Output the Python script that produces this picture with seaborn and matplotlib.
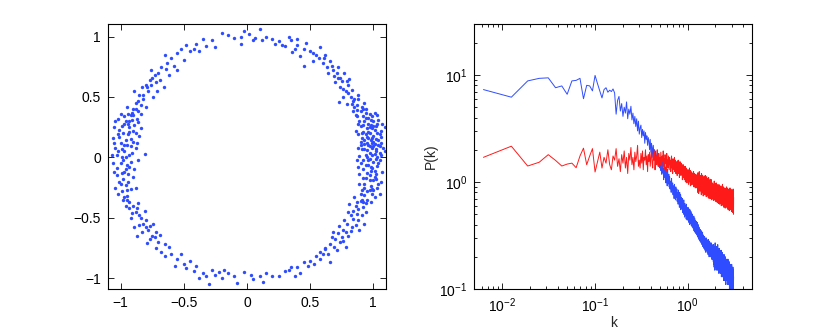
import numpy as np
import pandas as pd
import matplotlib
matplotlib.use('Agg')
import matplotlib.pyplot as plt
import seaborn as sns

# ---------------- scatter points (ring) ----------------
right_pts = [(1.02,0.05),(0.98,-0.08),(0.95,0.12),(1.05,-0.02),(0.92,0.21),(1.00,0.18),(0.97,-0.15),(1.04,0.10),
             (0.90,-0.05),(0.99,0.02),(1.06,0.22),(0.93,-0.22),(1.01,-0.11),(0.96,0.28),(0.88,0.08),(1.03,-0.25),
             (0.94,0.02),(0.99,-0.30),(0.91,0.16),(1.07,-0.12),(0.97,0.09),(1.00,-0.19),(0.95,-0.28),(1.02,0.26),
             (0.89,-0.14),(0.98,0.14),(1.04,0.31),(0.93,0.30),(0.87,-0.02),(1.05,0.04),(0.96,-0.02),(1.01,0.11),
             (0.92,-0.10),(0.99,0.24),(1.03,-0.07),(0.94,-0.17),(0.97,0.20),(1.06,-0.20),(0.90,0.26),(1.00,-0.04),
             (0.95,0.06),(0.98,-0.24),(1.02,0.15),(0.91,-0.27),(1.08,0.08),(0.96,0.33),(0.93,0.11),(1.01,-0.33),
             (0.88,0.19),(0.99,0.08),(1.00,0.30),(0.97,0.36),(1.03,0.20),(0.95,-0.35),(1.05,-0.30),(0.91,0.07),
             (0.99,-0.09),(1.02,-0.01),(0.94,0.19),(0.97,-0.19),(1.04,0.14),(0.90,0.13),(0.96,-0.06),(1.01,0.23),
             (0.93,-0.31),(0.88,0.28),(1.06,0.17),(0.98,0.27),(1.02,-0.18),(0.95,0.24),(0.92,-0.02),(1.00,0.13),
             (0.97,0.04),(0.89,-0.22),(1.03,0.00),(0.94,0.33),(0.99,-0.26),(1.07,0.28),(0.86,0.22),(0.96,0.16),
             (1.01,0.37),(0.91,-0.35),(0.98,-0.37),(1.05,0.09),(0.93,0.07),(0.87,0.34),(1.09,0.05),(1.09,0.25)]
right_extra = [(0.95,0.00),(1.00,0.09),(0.97,-0.27),(1.03,0.35),(0.92,0.27),(0.99,0.16),(1.04,-0.05),(0.90,-0.30),
               (0.96,0.10),(1.02,-0.14),(0.94,-0.06),(0.98,0.31),(1.06,0.02),(0.91,0.20),(1.00,-0.27),(0.93,0.14),
               (0.97,0.25),(1.01,0.03),(0.95,-0.13),(0.89,0.01),(1.05,0.19),(0.98,-0.11),(0.94,0.37),(1.02,0.07),
               (0.92,-0.17),(0.99,0.34),(1.04,-0.22),(0.96,0.21),(0.90,0.10),(1.03,0.28),(0.97,-0.01),(1.00,0.26),
               (0.93,-0.25),(0.95,0.17),(1.01,-0.16),(0.88,-0.08),(0.99,0.12),(1.06,0.12),(0.94,-0.38),(0.92,0.40)]
upper_right_pts = [(0.90,0.38),(0.85,0.42),(0.93,0.45),(0.82,0.50),(0.88,0.52),(0.78,0.55),(0.86,0.35),(0.80,0.60),
                   (0.75,0.63),(0.84,0.47),(0.72,0.66),(0.77,0.70),(0.68,0.72),(0.81,0.65),(0.70,0.62),(0.63,0.75),
                   (0.66,0.80),(0.89,0.30),(0.94,0.40),(0.74,0.58),(0.60,0.78),(0.79,0.44),(0.57,0.82),(0.87,0.43),
                   (0.83,0.56),(0.72,0.75),(0.92,0.34),(0.76,0.50),(0.73,0.46),(0.85,0.48),(0.91,0.42),(0.80,0.53),
                   (0.74,0.66),(0.69,0.67),(0.87,0.39),(0.79,0.63),(0.64,0.70),(0.71,0.70),(0.83,0.44),(0.76,0.57),
                   (0.61,0.82),(0.67,0.76),(0.88,0.48),(0.84,0.38)]
lower_right_pts = [(0.90,-0.36),(0.86,-0.40),(0.94,-0.45),(0.82,-0.48),(0.88,-0.52),(0.79,-0.55),(0.85,-0.33),
                   (0.76,-0.60),(0.72,-0.63),(0.83,-0.58),(0.70,-0.68),(0.74,-0.70),(0.66,-0.72),(0.80,-0.65),
                   (0.62,-0.75),(0.92,-0.41),(0.77,-0.52),(0.87,-0.47),(0.68,-0.62),(0.81,-0.39),(0.93,-0.55),
                   (0.75,-0.66),(0.89,-0.60),(0.64,-0.80),(0.84,-0.44),(0.78,-0.74),(0.88,-0.43),(0.84,-0.51),
                   (0.91,-0.48),(0.78,-0.62),(0.73,-0.57),(0.86,-0.56),(0.69,-0.74),(0.80,-0.45),(0.92,-0.37),
                   (0.76,-0.69),(0.82,-0.61),(0.67,-0.66),(0.87,-0.37),(0.71,-0.77),(0.58,-0.78)]
top_pts = [(0.55,0.85),(0.50,0.88),(0.45,0.90),(0.40,0.93),(0.52,0.80),(0.47,0.95),(0.35,0.97),(0.38,0.90),
           (0.30,0.92),(0.42,0.84),(0.33,1.00),(0.25,0.96),(0.20,0.98),(0.28,0.93),(0.15,1.00),(0.10,1.06),
           (0.05,0.97),(0.02,1.02),(-0.02,1.05),(0.06,0.99),(-0.05,1.00),(-0.10,0.99),(0.12,0.97),(0.45,0.76),
           (0.58,0.91),(0.40,0.98),(-0.20,1.03),(-0.28,0.97),(-0.32,0.92),(-0.35,0.98),(-0.25,0.91),(-0.40,0.94),
           (-0.45,0.88),(-0.48,0.93),(-0.52,0.90),(-0.55,0.86),(-0.60,0.82),(-0.58,0.76),(-0.63,0.78),(-0.50,0.81),
           (-0.38,0.88),(-0.65,0.85),(-0.55,0.72),(0.62,0.85),(-0.05,0.94),(0.52,0.86),(-0.42,0.90),(0.36,0.87),
           (-0.15,1.01),(0.22,0.94)]
upper_left_pts = [(-0.70,0.70),(-0.75,0.66),(-0.72,0.62),(-0.80,0.60),(-0.78,0.55),(-0.85,0.52),(-0.82,0.48),
                  (-0.88,0.45),(-0.90,0.40),(-0.86,0.38),(-0.92,0.35),(-0.68,0.75),(-0.76,0.72),(-0.83,0.58),
                  (-0.95,0.42),(-0.93,0.30),(-0.87,0.32),(-0.80,0.42),(-0.74,0.50),(-0.66,0.58),(-0.96,0.30),
                  (-1.02,0.32),(-0.89,0.55),(-0.77,0.64),(-0.84,0.43),(-0.71,0.55),(-0.79,0.58),(-0.86,0.47),
                  (-0.73,0.68),(-0.91,0.37),(-0.82,0.52),(-0.69,0.64),(-0.88,0.40),(-0.64,0.73),(-0.76,0.60),
                  (-0.94,0.36),(-0.62,0.68),(-0.84,0.36)]
left_pts = [(-0.98,0.20),(-0.95,0.10),(-1.02,0.05),(-0.92,0.15),(-1.00,-0.05),(-0.97,-0.12),(-1.05,0.12),
            (-0.90,0.22),(-0.94,-0.20),(-1.03,-0.15),(-0.99,0.26),(-0.88,0.08),(-0.96,0.00),(-1.06,-0.05),
            (-0.93,-0.08),(-1.01,0.17),(-0.90,-0.16),(-0.97,0.28),(-1.04,-0.25),(-0.86,-0.02),(-0.95,-0.27),
            (-0.99,0.07),(-1.07,0.02),(-0.91,0.04),(-0.85,0.18),(-0.94,-0.14),(-1.00,-0.22),(-0.89,-0.10),
            (-0.98,-0.02),(-0.87,0.12),(-0.93,0.25),(-1.02,-0.30),(-0.81,0.03),(-0.96,0.14),
            (-1.01,0.23),(-0.91,0.31),(-0.98,-0.18),(-1.04,0.08),(-0.92,-0.04),(-0.97,0.05),(-0.89,0.27),
            (-1.00,0.36),(-0.94,0.19),(-1.03,-0.09),(-0.95,-0.32),(-0.88,-0.25),(-0.99,-0.28),(-1.05,0.25),
            (-0.92,0.09),(-0.84,0.24),(-0.96,-0.23)]
left_extra = [(-0.97,0.10),(-1.02,0.19),(-0.93,0.02),(-0.99,-0.13),(-1.04,0.30),(-0.90,0.13),(-0.95,-0.06),
              (-1.01,-0.20),(-0.97,0.34),(-0.88,0.20),(-1.06,0.16),(-0.94,0.28),(-0.99,0.00),(-0.92,-0.26),
              (-1.03,0.02),(-0.96,-0.10),(-0.90,0.35),(-1.00,0.12),(-0.86,0.29),(-0.98,-0.35),(-1.05,-0.12),
              (-0.93,0.21)]
lower_left_pts = [(-0.95,-0.35),(-0.90,-0.40),(-0.88,-0.45),(-0.92,-0.50),(-0.85,-0.48),(-0.82,-0.55),(-0.86,-0.38),
                  (-0.78,-0.60),(-0.80,-0.52),(-0.75,-0.65),(-0.72,-0.62),(-0.70,-0.70),(-0.77,-0.68),(-0.83,-0.62),
                  (-0.65,-0.72),(-0.93,-0.42),(-0.97,-0.33),(-0.68,-0.78),(-0.74,-0.55),(-0.89,-0.58),(-0.81,-0.44),
                  (-0.62,-0.74),(-0.87,-0.65),(-0.87,-0.42),(-0.91,-0.46),(-0.80,-0.58),(-0.84,-0.50),(-0.73,-0.66),
                  (-0.93,-0.37),(-0.77,-0.57),(-0.69,-0.64),(-0.85,-0.56),(-0.79,-0.71),(-0.72,-0.75),(-0.96,-0.40)]
bottom_pts = [(-0.60,-0.80),(-0.55,-0.84),(-0.57,-0.90),(-0.50,-0.88),(-0.45,-0.86),(-0.48,-0.92),(-0.40,-0.90),
              (-0.35,-0.96),(-0.30,-1.05),(-0.28,-0.93),(-0.25,-0.97),(-0.20,-1.00),(-0.18,-0.93),(-0.15,-0.96),
              (-0.10,-0.98),(-0.08,-1.04),(-0.02,-0.95),(0.03,-0.97),(0.05,-1.01),(0.10,-0.98),(0.13,-1.03),
              (0.20,-0.98),(0.25,-0.98),(0.30,-0.94),(0.33,-0.93),(0.38,-0.98),(0.40,-0.91),(0.45,-0.87),
              (0.48,-0.90),(0.50,-0.86),(0.55,-0.82),(0.58,-0.84),(0.60,-0.80),(-0.38,-1.00),(-0.32,-0.98),
              (0.42,-0.96),(-0.65,-0.82),(0.62,-0.76),(0.66,-0.87),(-0.42,-0.94),(0.35,-0.91),(-0.52,-0.80),
              (0.53,-0.88),(0.15,-0.96),(-0.22,-0.95)]

# ---------------- spectra ----------------
k_step = 2 * np.pi / 1000   # frequency spacing
p_blue = [7.3, 6.2, 8.8, 9.3, 9.4, 7.6, 7.9, 6.6, 8.8, 8.9, 9.3, 6.0, 8.0, 7.9, 7.1, 9.9, 8.3, 7.1, 6.1, 7.3,
          7.6, 6.9, 7.2, 7.0, 7.4, 6.8, 4.3, 5.8, 6.3, 4.6, 5.4, 4.1, 5.0, 4.4, 5.6, 3.9, 4.8, 4.3, 5.1, 3.8,
          4.4, 3.5, 4.1, 3.3, 3.9, 3.0, 3.7, 2.8, 3.2, 3.4, 2.6, 3.1, 2.7, 3.0, 2.3, 2.9, 2.5, 2.7, 2.2, 2.6,
          2.4, 2.0, 2.5, 1.9, 2.3, 2.1, 1.7, 2.2, 1.8, 2.0, 1.6, 1.95, 1.75, 1.5, 1.85, 1.6, 1.4, 1.7, 1.55, 1.35,
          1.62, 1.28, 1.5, 1.18, 1.55, 1.22, 1.35, 1.05, 1.42, 1.3, 1.1, 1.38, 0.98, 1.25, 1.15, 0.92, 1.32, 1.08, 0.96, 1.18,
          0.9, 1.12, 0.86, 1.02, 0.95, 0.8, 1.08, 0.88, 0.83, 0.98, 0.76, 0.92, 0.85, 0.7, 0.95, 0.78, 0.82, 0.68, 0.9, 0.75,
          0.72, 0.86, 0.66, 0.79, 0.7, 0.62, 0.84, 0.68, 0.74, 0.58, 0.8, 0.65, 0.6, 0.76, 0.55, 0.69, 0.72, 0.57, 0.64, 0.7,
          0.52, 0.66, 0.58, 0.5, 0.68, 0.55, 0.61, 0.47, 0.63, 0.56, 0.49, 0.6, 0.53, 0.45, 0.62, 0.51, 0.57, 0.44, 0.55, 0.5,
          0.58, 0.46, 0.52, 0.42, 0.56, 0.48, 0.5, 0.4, 0.55, 0.45, 0.49, 0.41, 0.53, 0.47, 0.39, 0.51, 0.44, 0.48, 0.38, 0.5,
          0.42, 0.47, 0.37, 0.44, 0.4, 0.48, 0.35, 0.43, 0.39, 0.46, 0.34, 0.41, 0.44, 0.36, 0.4, 0.33, 0.43, 0.37, 0.39, 0.32,
          0.4, 0.35, 0.42, 0.31, 0.37, 0.34, 0.4, 0.3, 0.36, 0.33, 0.38, 0.29, 0.35, 0.37, 0.3, 0.34, 0.28, 0.36, 0.32, 0.29,
          0.34, 0.3, 0.27, 0.35, 0.31, 0.28, 0.33, 0.26, 0.32, 0.29, 0.34, 0.25, 0.3, 0.28, 0.32, 0.26, 0.29, 0.31, 0.24, 0.3,
          0.27, 0.25, 0.31, 0.26, 0.28, 0.23, 0.3, 0.27, 0.25, 0.29, 0.22, 0.28, 0.26, 0.3, 0.24, 0.27, 0.23, 0.29, 0.25, 0.26,
          0.22, 0.28, 0.24, 0.27, 0.21, 0.26, 0.25, 0.29, 0.22, 0.25, 0.27, 0.2, 0.26, 0.24, 0.28, 0.21, 0.25, 0.23, 0.27, 0.22,
          0.25, 0.2, 0.26, 0.23, 0.21, 0.27, 0.22, 0.24, 0.19, 0.25, 0.23, 0.2, 0.26, 0.21, 0.24, 0.19, 0.23, 0.22, 0.25, 0.2,
          0.24, 0.18, 0.21, 0.26, 0.17, 0.2, 0.23, 0.16, 0.19, 0.25, 0.22, 0.15, 0.2, 0.18, 0.24, 0.27, 0.19, 0.16, 0.21, 0.23,
          0.17, 0.22, 0.2, 0.15, 0.25, 0.18, 0.21, 0.16, 0.19, 0.23, 0.24, 0.17, 0.15, 0.2, 0.22, 0.18, 0.26, 0.16, 0.19, 0.21,
          0.15, 0.2, 0.23, 0.17, 0.19, 0.14, 0.22, 0.18, 0.24, 0.16, 0.17, 0.21, 0.15, 0.2, 0.23, 0.16, 0.18, 0.14, 0.22, 0.19,
          0.16, 0.21, 0.14, 0.18, 0.2, 0.15, 0.23, 0.17, 0.13, 0.19, 0.21, 0.16, 0.18, 0.14, 0.2, 0.22, 0.15, 0.17, 0.19, 0.13,
          0.18, 0.15, 0.21, 0.14, 0.17, 0.19, 0.13, 0.16, 0.2, 0.15, 0.12, 0.18, 0.17, 0.14, 0.21, 0.16, 0.13, 0.19, 0.15, 0.17,
          0.14, 0.19, 0.12, 0.16, 0.18, 0.13, 0.15, 0.2, 0.14, 0.11, 0.17, 0.16, 0.13, 0.19, 0.15, 0.12, 0.18, 0.14, 0.16, 0.13,
          0.17, 0.12, 0.15, 0.19, 0.13, 0.14, 0.11, 0.16, 0.18, 0.13, 0.15, 0.12, 0.17, 0.14, 0.19, 0.12, 0.15, 0.13, 0.11, 0.16,
          0.14, 0.17, 0.12, 0.15, 0.11, 0.16, 0.13, 0.18, 0.12, 0.14, 0.1, 0.15, 0.17, 0.13, 0.12, 0.16, 0.14, 0.11, 0.15, 0.13,
          0.16, 0.12, 0.14, 0.1, 0.15, 0.13, 0.17, 0.11, 0.14, 0.12, 0.16, 0.13, 0.1, 0.15, 0.12, 0.14, 0.17, 0.11, 0.13, 0.15,
          0.12, 0.1, 0.14, 0.16, 0.11, 0.13, 0.15, 0.1, 0.12, 0.14, 0.11, 0.16, 0.13, 0.105, 0.15, 0.12, 0.1, 0.14, 0.12, 0.13]
p_red = [1.7, 2.16, 1.41, 1.53, 1.8, 1.59, 1.41, 1.47, 1.5, 1.36, 1.75, 2.07, 1.45, 1.75, 2.05, 1.24,
         1.55, 1.9, 1.35, 1.7, 1.5, 2.0, 1.45, 1.3, 1.75, 1.6, 2.05, 1.4, 1.65, 1.25, 1.8, 1.5, 1.95, 1.35, 1.7, 1.2, 1.85, 1.6, 2.1, 1.45,
         1.7, 1.3, 1.9, 1.55, 1.75, 2.2, 1.4, 1.6, 1.35, 1.85, 1.5, 1.95, 1.3, 1.7, 1.6, 2.0, 1.45, 1.75, 1.25, 1.8,
         1.55, 1.9, 1.4, 1.7, 2.05, 1.5, 1.35, 1.8, 1.6, 1.95, 1.3, 1.65, 1.75, 1.45, 2.0, 1.55, 1.4, 1.85, 1.5, 1.7,
         1.45, 1.9, 1.6, 1.35, 1.75, 1.55, 1.95, 1.4, 1.65, 1.3, 1.8, 1.5, 1.7, 1.25, 1.85, 1.45, 1.6, 1.35, 1.75, 1.5,
         1.3, 1.7, 1.45, 1.6, 1.25, 1.55, 1.75, 1.35, 1.5, 1.2, 1.65, 1.4, 1.55, 1.3, 1.7, 1.25, 1.45, 1.6, 1.2, 1.5,
         1.35, 1.55, 1.15, 1.45, 1.3, 1.6, 1.2, 1.4, 1.5, 1.1, 1.35, 1.55, 1.25, 1.4, 1.15, 1.5, 1.3, 1.2, 1.45, 1.05,
         1.35, 1.2, 1.45, 1.1, 1.3, 1.4, 1.05, 1.25, 1.15, 1.4, 1.0, 1.3, 1.2, 1.35, 1.1, 1.25, 0.98, 1.3, 1.15, 1.2,
         1.05, 1.3, 1.15, 0.95, 1.25, 1.1, 1.35, 1.0, 1.2, 1.08, 1.28, 0.92, 1.15, 1.25, 1.02, 1.18, 0.95, 1.22, 1.1, 1.0,
         1.2, 0.95, 1.15, 1.05, 1.25, 0.9, 1.1, 1.0, 1.2, 0.92, 1.12, 1.05, 0.88, 1.18, 1.0, 1.1, 0.9, 1.15, 0.98, 1.06,
         0.88, 1.18, 0.95, 1.05, 0.8, 1.22, 0.92, 1.0, 1.12, 0.78, 1.08, 0.97, 1.25, 0.85, 0.9, 1.1, 0.82, 1.15, 1.02, 0.86,
         1.12, 0.84, 0.98, 0.76, 1.2, 0.9, 1.05, 0.82, 0.93, 1.16, 0.79, 1.0, 0.88, 1.1, 0.74, 0.96, 1.08, 0.85, 0.92, 1.14,
         0.8, 0.95, 1.1, 0.76, 0.9, 1.02, 0.84, 1.15, 0.78, 0.93, 0.87, 1.06, 0.73, 0.98, 0.89, 1.12, 0.8, 0.86, 1.0, 0.75,
         0.94, 1.08, 0.78, 0.86, 1.02, 0.72, 0.9, 0.83, 1.1, 0.8, 0.95, 0.7, 0.88, 1.04, 0.79, 0.92, 0.74, 0.98, 0.85, 1.06,
         0.76, 0.9, 0.7, 1.0, 0.82, 0.87, 0.73, 1.05, 0.8, 0.92, 0.68, 0.85, 0.95, 0.78, 0.88, 0.71, 0.98, 0.8, 0.74, 0.9,
         0.86, 0.7, 0.95, 0.78, 0.83, 0.67, 0.92, 0.8, 1.02, 0.74, 0.85, 0.69, 0.9, 0.77, 0.82, 0.97, 0.72, 0.84, 0.66, 0.88,
         0.75, 0.9, 0.7, 0.82, 0.98, 0.73, 0.8, 0.65, 0.87, 0.76, 0.93, 0.7, 0.78, 0.84, 0.64, 0.89, 0.74, 0.8, 0.95, 0.69,
         0.82, 0.68, 0.88, 0.74, 0.63, 0.9, 0.77, 0.71, 0.85, 0.66, 0.94, 0.75, 0.8, 0.62, 0.86, 0.72, 0.78, 0.91, 0.67, 0.8,
         0.7, 0.84, 0.63, 0.78, 0.92, 0.68, 0.75, 0.6, 0.86, 0.72, 0.8, 0.65, 0.89, 0.7, 0.76, 0.62, 0.83, 0.73, 0.95, 0.66,
         0.78, 0.64, 0.86, 0.7, 0.6, 0.82, 0.74, 0.67, 0.9, 0.63, 0.76, 0.71, 0.58, 0.84, 0.69, 0.79, 0.62, 0.88, 0.7, 0.65,
         0.75, 0.6, 0.83, 0.68, 0.72, 0.57, 0.87, 0.66, 0.78, 0.62, 0.8, 0.7, 0.59, 0.85, 0.67, 0.74, 0.61, 0.9, 0.69, 0.64,
         0.77, 0.58, 0.82, 0.66, 0.71, 0.62, 0.88, 0.68, 0.56, 0.79, 0.65, 0.74, 0.6, 0.84, 0.7, 0.63, 0.76, 0.55, 0.8, 0.67,
         0.72, 0.6, 0.86, 0.64, 0.7, 0.57, 0.8, 0.67, 0.75, 0.54, 0.83, 0.66, 0.62, 0.78, 0.69, 0.58, 0.88, 0.65, 0.72, 0.61,
         0.76, 0.59, 0.68, 0.82, 0.63, 0.71, 0.55, 0.79, 0.66, 0.6, 0.85, 0.64, 0.7, 0.53, 0.77, 0.68, 0.62, 0.81, 0.57, 0.73,
         0.64, 0.78, 0.58, 0.7, 0.84, 0.6, 0.67, 0.52, 0.75, 0.63, 0.8, 0.57, 0.71, 0.66, 0.86, 0.55, 0.69, 0.62, 0.5, 0.72]

# ---------------- build dataframes ----------------
all_pts = (right_pts + right_extra + upper_right_pts + lower_right_pts + top_pts +
           upper_left_pts + left_pts + left_extra + lower_left_pts + bottom_pts)
ring = pd.DataFrame(all_pts, columns=['x', 'y'])
spec_blue = pd.DataFrame({'k': k_step * np.arange(1, len(p_blue) + 1), 'P': p_blue})
spec_red = pd.DataFrame({'k': k_step * np.arange(1, len(p_red) + 1), 'P': p_red})

# ---------------- style ----------------
sns.set_style('ticks')
plt.rcParams['font.family'] = ['Liberation Sans', 'DejaVu Sans']
plt.rcParams['mathtext.fontset'] = 'custom'
plt.rcParams['mathtext.rm'] = 'Liberation Sans'
plt.rcParams['axes.unicode_minus'] = True

blue = '#2f4dff'
red = '#ff1a1a'

fig = plt.figure(figsize=(8.3, 3.32), dpi=100)
ax1 = fig.add_axes([0.130, 0.1295, 0.335, 0.7985])
ax2 = fig.add_axes([0.5714, 0.1295, 0.335, 0.7985])

# left panel: scatter of the ring
sns.scatterplot(data=ring, x='x', y='y', ax=ax1, color=blue, s=6, linewidth=0, legend=False)
ax1.set_xlim(-1.1, 1.1)
ax1.set_ylim(-1.09, 1.105)
ax1.set_xticks([-1, -0.5, 0, 0.5, 1])
ax1.set_yticks([-1, -0.5, 0, 0.5, 1])
ax1.set_xticklabels(['\u22121', '\u22120.5', '0', '0.5', '1'])
ax1.set_yticklabels(['\u22121', '\u22120.5', '0', '0.5', '1'])
ax1.set_xlabel('')
ax1.set_ylabel('')

# right panel: power spectra
sns.lineplot(data=spec_blue, x='k', y='P', ax=ax2, color=blue, linewidth=0.7, sort=False, estimator=None)
sns.lineplot(data=spec_red, x='k', y='P', ax=ax2, color=red, linewidth=0.7, sort=False, estimator=None)
ax2.set_xscale('log')
ax2.set_yscale('log')
ax2.set_xlim(0.005, 5)
ax2.set_ylim(0.1, 30)
ax2.set_xlabel('k', fontsize=10, labelpad=1)
ax2.set_ylabel('P(k)', fontsize=10, labelpad=1)

for ax in (ax1, ax2):
    ax.tick_params(which='both', direction='in', top=True, right=True, labelsize=10, width=0.6, colors='black', pad=5)
    ax.tick_params(which='major', length=4)
    ax.tick_params(which='minor', length=2)
    for sp in ax.spines.values():
        sp.set_visible(True)
        sp.set_linewidth(0.8)
        sp.set_color('black')

fig.savefig('out.png', dpi=100, facecolor='white')
